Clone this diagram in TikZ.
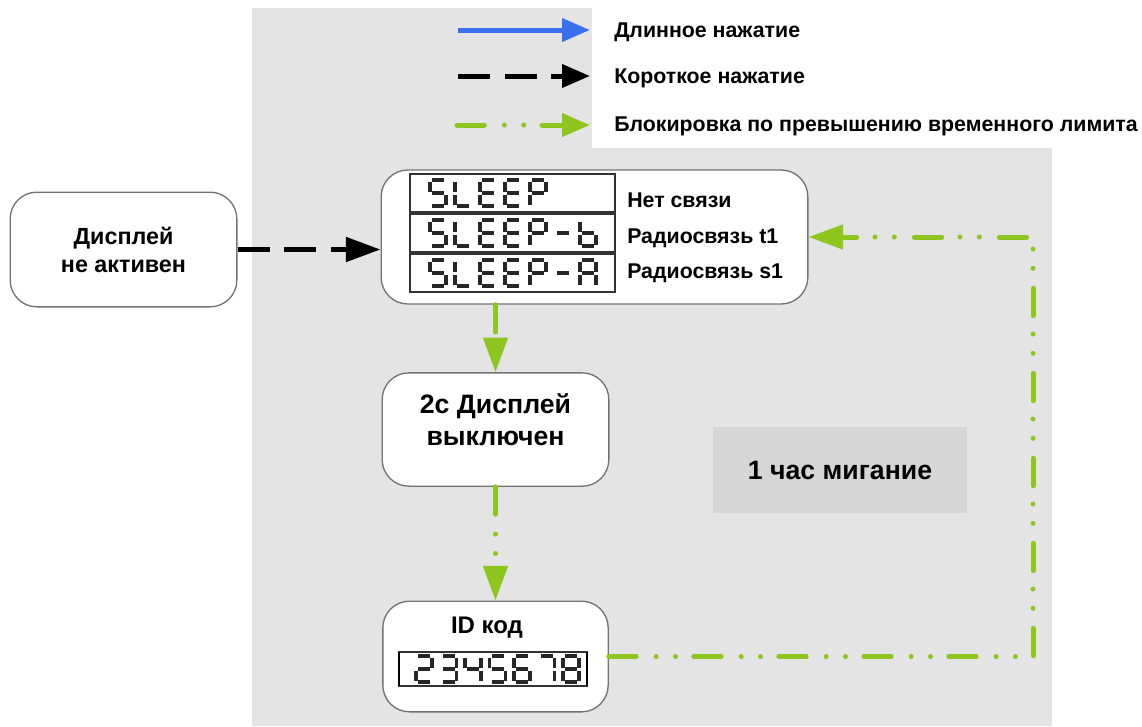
\documentclass[tikz,border=0pt]{standalone}
\usepackage{fontspec}
\setmainfont{Liberation Sans}
\usetikzlibrary{arrows.meta}

\definecolor{limegreen}{RGB}{141,198,31}
\definecolor{pressblue}{RGB}{58,112,240}
\definecolor{panelgray}{RGB}{228,228,228}
\definecolor{blinkgray}{RGB}{214,214,214}

\tikzset{
  state/.style={draw=black!55, line width=1pt, fill=white, rounded corners=20pt, inner sep=0pt},
  legend/.style={anchor=base west, inner sep=0pt, font=\bfseries\fontsize{16}{19}\selectfont},
  note/.style={anchor=base west, inner sep=0pt, font=\bfseries\fontsize{16}{19}\selectfont},
  longpress/.style={pressblue, line width=3.75pt, -{Triangle[length=21pt,width=17pt]}},
  shortpress/.style={black, line width=3.75pt, dash pattern=on 24pt off 11pt, -{Triangle[length=21pt,width=17pt]}},
  timeout/.style={limegreen, line width=3.75pt, line cap=round,
    dash pattern=on 20.5pt off 15pt on 0pt off 14.5pt on 0pt off 13.75pt, -{Triangle[length=21pt,width=17pt]}},
  bigtip/.style={-{Triangle[length=26pt,width=18pt]}},
  lcdbox/.style={draw=black!80, line width=0.8pt, fill=white},
  lcdseg/.style={line width=2.3pt, black!85},
  % seven segments of one digit, cell 16 x 26 (y runs down)
  sa/.style={insert path={(2,0)--(14,0)}},
  sb/.style={insert path={(16,1.5)--(16,11.5)}},
  sc/.style={insert path={(16,14.5)--(16,24.5)}},
  sd/.style={insert path={(2,26)--(14,26)}},
  se/.style={insert path={(0,14.5)--(0,24.5)}},
  sf/.style={insert path={(0,1.5)--(0,11.5)}},
  sg/.style={insert path={(2,13)--(14,13)}},
  lcdS/.style={sa,sf,sg,sc,sd},
  lcdL/.style={sf,se,sd},
  lcdE/.style={sa,sf,sg,se,sd},
  lcdP/.style={sa,sb,sf,sg,se},
  lcdminus/.style={sg},
  lcdb/.style={sf,se,sd,sc,sg},
  lcdA/.style={sa,sb,sc,se,sf,sg},
  lcd2/.style={sa,sb,sg,se,sd},
  lcd3/.style={sa,sb,sg,sc,sd},
  lcd4/.style={sf,sg,sb,sc},
  lcd5/.style={sa,sf,sg,sc,sd},
  lcd6/.style={sa,sf,sg,se,sd,sc},
  lcd7/.style={sa,sb,sc},
  lcd8/.style={sa,sb,sc,sd,se,sf,sg},
}

\begin{document}
\begin{tikzpicture}[x=0.75pt,y=-0.75pt]
\useasboundingbox (0,0) rectangle (1142,726);
% grey panel, white legend strip on top of it
\fill[panelgray] (252,8) rectangle (1052,726);
\fill[white] (592,8) rectangle (1052,148);

% legend
\coordinate (lg1a) at (458,30);  \coordinate (lg1b) at (590,30);
\coordinate (lg2a) at (458,76);  \coordinate (lg2b) at (590,76);
\coordinate (lg3a) at (457,125); \coordinate (lg3b) at (590,125);
\draw[longpress] (lg1a) -- (lg1b);
\draw[shortpress] (lg2a) -- (lg2b);
\draw[timeout] (lg3a) -- (lg3b);
\node[legend] (lgt1) at (614,37) {Длинное нажатие};
\node[legend] (lgt2) at (614,83) {Короткое нажатие};
\node[legend] (lgt3) at (614,131) {Блокировка по превышению временного лимита};

% states
\node[state, minimum width=170pt, minimum height=86pt, align=center,
      font=\bfseries\fontsize{17.5}{21}\selectfont] (inactive) at (123.5,249.5) {Дисплей\\не активен};
\node[state, minimum width=320pt, minimum height=100.5pt] (sleep) at (594.5,237) {};
\node[state, minimum width=170pt, minimum height=85pt] (off) at (495.5,429.5) {};
\node[align=center, font=\bfseries\fontsize{20}{24}\selectfont] (offtext)
      at ([yshift=7.5pt]off.center) {2с Дисплей\\выключен};
\node[state, minimum width=169pt, minimum height=83pt] (idcode) at (495.5,656.5) {};
\node[font=\bfseries\fontsize{18}{21}\selectfont] (idtext) at (487,628) {ID код};
\node[fill=blinkgray, minimum width=190.5pt, minimum height=64.5pt,
      font=\bfseries\fontsize{20}{24}\selectfont] (blink) at (840,470) {1 час мигание};

% sleep displays
\foreach \y in {174,214,254} \draw[lcdbox] (410,\y) rectangle (615,\y+38);
\foreach \c [count=\i from 0] in {S,L,E,E,P}
  \draw[lcdseg, shift={(430+25*\i,180)}] [lcd\c];
\foreach \c [count=\i from 0] in {S,L,E,E,P,minus,b}
  \draw[lcdseg, shift={(430+25*\i,220)}] [lcd\c];
\foreach \c [count=\i from 0] in {S,L,E,E,P,minus,A}
  \draw[lcdseg, shift={(430+25*\i,260)}] [lcd\c];
\node[note] (nolink) at (627,207) {Нет связи};
\node[note] (radiot) at (627,243) {Радиосвязь t1};
\node[note] (radios) at (627,278) {Радиосвязь s1};

% id display
\draw[lcdbox] (399,652) rectangle (587,686);
\draw[line width=2pt] (399,652) -- (399,686) (587,652) -- (587,686);
\foreach \c [count=\i from 0] in {2,3,4,5,6,7,8}
  \draw[lcdseg, shift={(416+24.5*\i,656)}] [lcd\c];

% transitions
\coordinate (turn) at (1033,450);
\draw[shortpress, bigtip] (inactive.east) -- (inactive.east -| sleep.west);
\draw[timeout, bigtip] (off.north |- sleep.south) -- (off.north);
\draw[timeout, bigtip] (off.south) -- (idcode.north);
\draw[timeout, bigtip] (idcode.east) -- (idcode.east -| turn) -- (sleep.east -| turn) -- (sleep.east);
\end{tikzpicture}
\end{document}
